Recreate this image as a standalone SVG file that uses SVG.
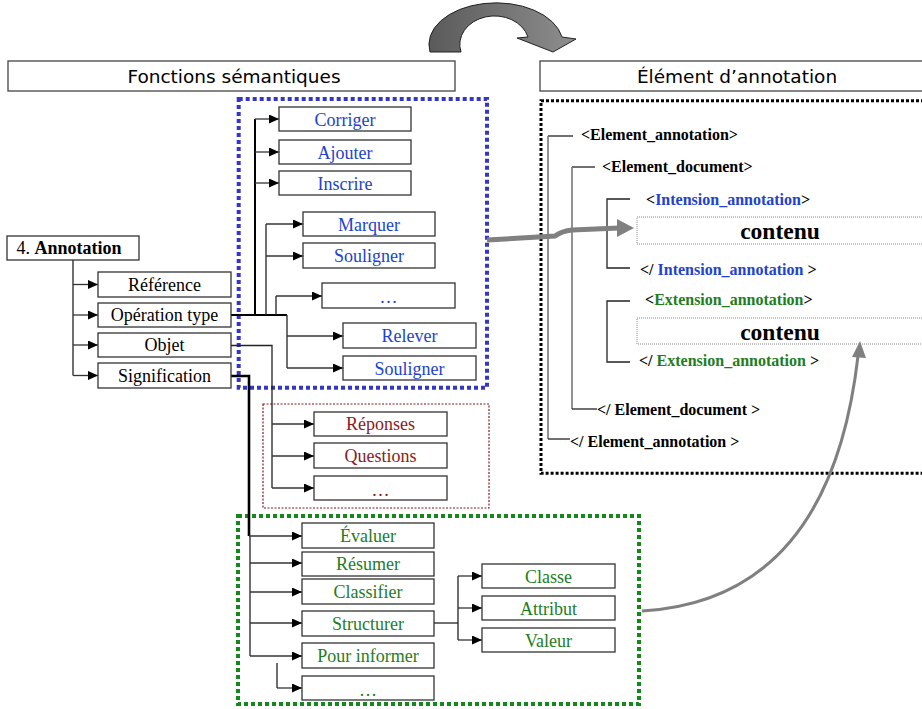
<svg xmlns="http://www.w3.org/2000/svg" width="922" height="709" viewBox="0 0 922 709">
<defs>
<style>
.box{fill:#fff;stroke:#333;stroke-width:1.3}
.t{font-family:"Liberation Serif","Times New Roman",serif;font-size:18px;text-anchor:middle}
.blk{fill:#000}
.blu{fill:#2142d0}
.red{fill:#8b1a1a}
.grn{fill:#1e7d1e}
.hd{font-family:"DejaVu Sans","Liberation Sans",sans-serif;font-size:18.5px;text-anchor:middle;fill:#000}
.xt{font-family:"Liberation Serif","Times New Roman",serif;font-size:16px;font-weight:bold;fill:#000}
.ct{font-family:"Liberation Serif","Times New Roman",serif;font-size:23.5px;font-weight:bold;fill:#000;text-anchor:middle}
.ln{fill:none;stroke:#222;stroke-width:1.3}
.lnk{fill:none;stroke:#000;stroke-width:2}
.lnt{fill:none;stroke:#000;stroke-width:2.6}
.arr{fill:none;stroke:#333;stroke-width:1.3;marker-end:url(#ah)}
.br{fill:none;stroke:#222;stroke-width:1.3}
.brg{fill:none;stroke:#777;stroke-width:1.6}
</style>
<marker id="ah" viewBox="0 0 10 10" refX="10" refY="5" markerWidth="10" markerHeight="9" markerUnits="userSpaceOnUse" orient="auto" preserveAspectRatio="none">
<path d="M0,0 L10,5 L0,10 z" fill="#000"/>
</marker>
<linearGradient id="ga" x1="0" y1="0" x2="1" y2="0">
<stop offset="0" stop-color="#5a5a5a"/>
<stop offset="1" stop-color="#8e8e8e"/>
</linearGradient>
</defs>
<rect width="922" height="709" fill="#fff"/>

<!-- header -->
<g id="header-arrow">
<path d="M430,52 L461,52 A34,28 0 0 1 528,37 L517,38 L553,52 L576,39 L562,37 A66,41 0 0 0 430,52 Z" fill="url(#ga)" stroke="#222" stroke-width="1"/>
</g>
<g id="fonctions">
<rect x="8" y="61" width="447" height="30" fill="#fff" stroke="#444" stroke-width="1.3"/>
<text class="hd" x="234" y="83">Fonctions sémantiques</text>
</g>
<g id="element">
<rect x="540" y="61" width="400" height="30" fill="#fff" stroke="#444" stroke-width="1.3"/>
<text class="hd" x="737" y="83">Élément d’annotation</text>
</g>

<!-- group borders -->
<rect x="238.7" y="99" width="248.3" height="288.7" fill="none" stroke="#3535c8" stroke-width="4" stroke-dasharray="4 3"/>
<rect x="541" y="100.7" width="400" height="372.6" fill="none" stroke="#000" stroke-width="3" stroke-dasharray="3 2"/>
<rect x="263" y="404" width="226" height="104" fill="none" stroke="#8b1a1a" stroke-width="1.2" stroke-dasharray="2 1.5"/>
<rect x="238" y="516" width="401" height="188" fill="none" stroke="#14881a" stroke-width="4" stroke-dasharray="4 3"/>

<!-- connectors -->
<g id="connectors">
<path class="ln" d="M73,260 V375.5"/>
<path class="arr" d="M73,284.5 H98"/>
<path class="arr" d="M73,315 H98"/>
<path class="arr" d="M73,345 H98"/>
<path class="arr" d="M73,375.5 H98"/>

<path class="lnk" d="M231,315 H287"/>
<path class="lnk" d="M255,119 V315"/>
<path class="arr" d="M255,119 H279"/>
<path class="arr" d="M255,152 H279"/>
<path class="arr" d="M255,183 H279"/>
<path class="ln" d="M266,224 V315"/>
<path class="arr" d="M266,224 H303"/>
<path class="arr" d="M266,256 H303"/>
<path class="ln" d="M276,296 V315"/>
<path class="arr" d="M276,296 H322"/>
<path class="ln" d="M287,315 V368"/>
<path class="arr" d="M287,336 H343"/>
<path class="arr" d="M287,368 H343"/>

<path class="ln" d="M231,345.5 H272 V488"/>
<path class="arr" d="M272,424 H314"/>
<path class="arr" d="M272,456 H314"/>
<path class="arr" d="M272,488 H314"/>

<path class="lnt" d="M231,376 H249 V536"/>
<path class="ln" d="M250,536 V656"/>
<path class="arr" d="M249,536 H302"/>
<path class="arr" d="M250,563 H302"/>
<path class="arr" d="M250,592 H302"/>
<path class="arr" d="M250,623 H302"/>
<path class="arr" d="M250,656 H302"/>
<path class="ln" d="M277,663 V688"/>
<path class="arr" d="M277,688 H302"/>

<path class="ln" d="M434,623 H458"/>
<path class="ln" d="M458,576 V640"/>
<path class="arr" d="M458,576 H482"/>
<path class="arr" d="M458,608 H482"/>
<path class="arr" d="M458,640 H482"/>

<!-- XML brackets -->
<path class="br" d="M573,136 H548"/>
<path class="brg" d="M548,136 V439"/>
<path class="br" d="M548,439 H570"/>
<path class="br" d="M595,167 H572"/>
<path class="brg" d="M572,167 V409"/>
<path class="br" d="M572,409 H597"/>
<path class="br" d="M630,199 H607 V268 H630"/>
<path class="br" d="M630,301 H607 V362 H630"/>

<!-- gray arrows -->
<path d="M487,240 L555,236 Q562,231 572,230 L619,228" fill="none" stroke="#808080" stroke-width="5"/>
<polygon points="617,219 634,228 617,237" fill="#808080"/>
<path d="M642,611 Q830,600 858,356" fill="none" stroke="#808080" stroke-width="3"/>
<polygon points="852,357 860,341 866,358" fill="#808080"/>
</g>

<!-- nodes -->
<g id="annotation"><rect class="box" x="7" y="236" width="132" height="24"/><text x="16.5" y="254" font-family="Liberation Serif, Times New Roman, serif" font-size="18" fill="#000">4. <tspan font-weight="bold">Annotation</tspan></text></g>
<g id="reference"><rect class="box" x="98" y="272" width="133" height="25"/><text class="t blk" x="164.5" y="291">Référence</text></g>
<g id="operation"><rect class="box" x="98" y="303" width="133" height="24"/><text class="t blk" x="164.5" y="321">Opération type</text></g>
<g id="objet"><rect class="box" x="98" y="333" width="133" height="24"/><text class="t blk" x="164.5" y="351">Objet</text></g>
<g id="signification"><rect class="box" x="98" y="363" width="133" height="25"/><text class="t blk" x="164.5" y="382">Signification</text></g>

<g id="corriger"><rect class="box" x="279" y="107" width="132" height="24"/><text class="t blu" x="345" y="126">Corriger</text></g>
<g id="ajouter"><rect class="box" x="279" y="140" width="132" height="24"/><text class="t blu" x="345" y="159">Ajouter</text></g>
<g id="inscrire"><rect class="box" x="279" y="171" width="132" height="24"/><text class="t blu" x="345" y="190">Inscrire</text></g>
<g id="marquer"><rect class="box" x="303" y="212" width="132" height="24"/><text class="t blu" x="369" y="231">Marquer</text></g>
<g id="souligner1"><rect class="box" x="303" y="243" width="132" height="25"/><text class="t blu" x="369" y="262">Souligner</text></g>
<g id="etc-blue"><rect class="box" x="322" y="283" width="133" height="25"/><text class="t blu" x="388.5" y="303">…</text></g>
<g id="relever"><rect class="box" x="343" y="323" width="133" height="25"/><text class="t blu" x="409.5" y="342">Relever</text></g>
<g id="souligner2"><rect class="box" x="343" y="356" width="133" height="24"/><text class="t blu" x="409.5" y="375">Souligner</text></g>

<g id="reponses"><rect class="box" x="314" y="412" width="133" height="24"/><text class="t red" x="380.5" y="430">Réponses</text></g>
<g id="questions"><rect class="box" x="314" y="443" width="133" height="25"/><text class="t red" x="380.5" y="462">Questions</text></g>
<g id="etc-red"><rect class="box" x="314" y="476" width="133" height="24"/><text class="t red" x="380.5" y="496">…</text></g>

<g id="evaluer"><rect class="box" x="302" y="523" width="132" height="25"/><text class="t grn" x="368" y="542">Évaluer</text></g>
<g id="resumer"><rect class="box" x="302" y="552" width="132" height="24"/><text class="t grn" x="368" y="570">Résumer</text></g>
<g id="classifier"><rect class="box" x="302" y="579" width="132" height="25"/><text class="t grn" x="368" y="598">Classifier</text></g>
<g id="structurer"><rect class="box" x="302" y="611" width="132" height="25"/><text class="t grn" x="368" y="630">Structurer</text></g>
<g id="informer"><rect class="box" x="302" y="643" width="132" height="25"/><text class="t grn" x="368" y="662">Pour informer</text></g>
<g id="etc-green"><rect class="box" x="302" y="676" width="132" height="24"/><text class="t grn" x="368" y="696">…</text></g>
<g id="classe"><rect class="box" x="482" y="564" width="133" height="24"/><text class="t grn" x="548.5" y="583">Classe</text></g>
<g id="attribut"><rect class="box" x="482" y="596" width="133" height="24"/><text class="t grn" x="548.5" y="615">Attribut</text></g>
<g id="valeur"><rect class="box" x="482" y="628" width="133" height="24"/><text class="t grn" x="548.5" y="647">Valeur</text></g>

<!-- XML structure -->
<g id="xml">
<text class="xt" x="581" y="140">&lt;Element_annotation&gt;</text>
<text class="xt" x="602" y="172">&lt;Element_document&gt;</text>
<text class="xt" x="646" y="205">&lt;<tspan class="blu">Intension_annotation</tspan>&gt;</text>
<rect x="637" y="217" width="300" height="27" fill="none" stroke="#888" stroke-width="1" stroke-dasharray="1 1"/>
<text class="ct" x="780" y="239">contenu</text>
<text class="xt" x="640" y="275">&lt;/ <tspan class="blu">Intension_annotation</tspan> &gt;</text>
<text class="xt" x="645" y="305">&lt;<tspan class="grn">Extension_annotation</tspan>&gt;</text>
<rect x="637" y="318" width="300" height="26" fill="none" stroke="#888" stroke-width="1" stroke-dasharray="1 1"/>
<text class="ct" x="780" y="340">contenu</text>
<text class="xt" x="639" y="366">&lt;/ <tspan class="grn">Extension_annotation</tspan> &gt;</text>
<text class="xt" x="597" y="415">&lt;/ Element_document &gt;</text>
<text class="xt" x="570" y="447">&lt;/ Element_annotation &gt;</text>
</g>
</svg>
